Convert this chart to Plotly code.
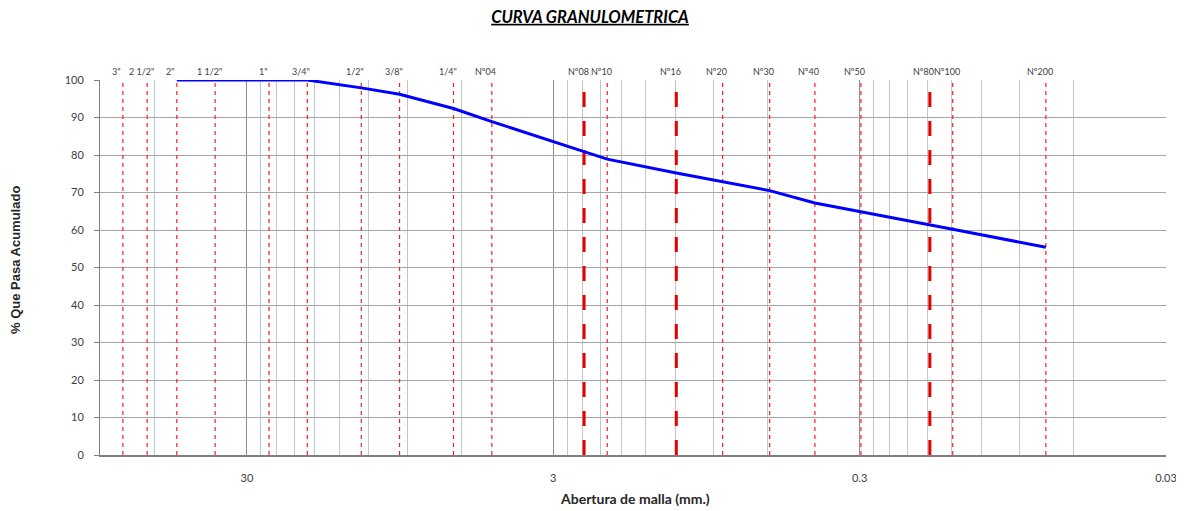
import numpy as np
import plotly.graph_objects as go

# ---- data ----
sieve_labels = ['3"', '2 1/2"', '2"', '1 1/2"', '1"', '3/4"', '1/2"', '3/8"', '1/4"',
                'Nº04', 'Nº08', 'Nº10', 'Nº16', 'Nº20', 'Nº30', 'Nº40', 'Nº50',
                'Nº80', 'Nº100', 'Nº200']
sieve_mm = [76.2, 63.5, 50.8, 38.1, 25.4, 19.05, 12.7, 9.525, 6.35,
            4.76, 2.38, 2.0, 1.19, 0.84, 0.59, 0.42, 0.297,
            0.177, 0.149, 0.074]
bold_sieves = ['Nº08', 'Nº16', 'Nº80']

curve_mm = [50.8, 38.1, 25.4, 19.05, 12.7, 9.525, 6.35, 4.76, 2.38, 2.0,
            1.19, 0.84, 0.59, 0.42, 0.297, 0.177, 0.149, 0.074]
curve_pct = [100, 100, 100, 100, 97.9, 96.2, 92.4, 88.9, 80.9, 78.9,
             75.2, 72.8, 70.5, 67.2, 64.8, 61.3, 60.2, 55.4]

x_major_ticks = [30, 3, 0.3, 0.03]
x_major_text = ['30', '3', '0.3', '0.03']
x_minor_grid = [60, 27, 24, 21, 18, 15, 12, 9, 6,
                2.7, 2.4, 2.1, 1.8, 1.5, 1.2, 0.9, 0.6,
                0.27, 0.24, 0.21, 0.18, 0.15, 0.12, 0.09, 0.06]
x_range = [90.5, 0.03]
y_ticks = list(range(0, 101, 10))

FONT = "Lato"
# page body has an 8px margin: figure sized/placed to compensate
W, H = 1176, 503
ML, MR, MT, MB = 92, 18, 72, 56
PW, PH = W - ML - MR, H - MT - MB

fig = go.Figure()

# sieve reference lines
for lab, mm in zip(sieve_labels, sieve_mm):
    bold = lab in bold_sieves
    fig.add_trace(go.Scatter(
        x=[mm, mm], y=[0, 100], mode="lines", hoverinfo="skip", showlegend=False,
        line=dict(color="#E60000" if bold else "#FF1A1A",
                  width=3 if bold else 1.2,
                  dash="15px,14px" if bold else "4px,4px")))

# grading curve
fig.add_trace(go.Scatter(x=curve_mm, y=curve_pct, mode="lines", showlegend=False,
                         line=dict(color="#0000FF", width=3), hoverinfo="skip"))

# sieve labels on top
for lab, mm in zip(sieve_labels, sieve_mm):
    fig.add_annotation(x=np.log10(mm), y=100, xref="x", yref="y", text=lab,
                       showarrow=False, yanchor="bottom", xanchor="center",
                       xshift=-6, yshift=1,
                       font=dict(family=FONT, size=9, color="#404040"))

fig.update_xaxes(type="log", range=[np.log10(x_range[0]), np.log10(x_range[1])],
                 tickmode="array", tickvals=x_major_ticks, ticktext=x_major_text,
                 showgrid=True, gridcolor="#8C8C8C", gridwidth=1,
                 minor=dict(tickmode="array", tickvals=x_minor_grid, showgrid=True,
                            gridcolor="#C4C4C4", gridwidth=1, ticks=""),
                 showline=True, linecolor="#7F7F7F", linewidth=2,
                 ticks="", ticklabelstandoff=12, automargin=False,
                 tickfont=dict(family=FONT, size=11, color="#404040"),
                 zeroline=False, mirror=False)
fig.update_yaxes(range=[0, 100], tickmode="array", tickvals=y_ticks,
                 showgrid=True, gridcolor="#A6A6A6", gridwidth=1,
                 showline=True, linecolor="#7F7F7F", linewidth=1,
                 ticks="outside", ticklen=5, tickcolor="#7F7F7F",
                 ticklabelstandoff=8, automargin=False,
                 tickfont=dict(family=FONT, size=11, color="#404040"),
                 zeroline=False)

fig.add_annotation(text="<b>% Que Pasa Acumulado</b>", xref="paper", yref="paper",
                   x=(7 - ML) / PW, y=(MT + PH - 252) / PH, textangle=-90, showarrow=False,
                   xanchor="center", yanchor="middle",
                   font=dict(family="Liberation Sans", size=13, color="#262626"))
fig.add_annotation(text="<b>Abertura de malla (mm.)</b>", xref="paper", yref="paper",
                   x=(627 - ML) / PW, y=-(490 - MT - PH) / PH, showarrow=False,
                   xanchor="center", yanchor="middle",
                   font=dict(family=FONT, size=14, color="#262626"))

fig.update_layout(
    width=W, height=H,
    margin=dict(l=ML, r=MR, t=MT, b=MB, autoexpand=False),
    paper_bgcolor="white", plot_bgcolor="white",
    title=dict(text="<b><i><u>CURVA GRANULOMETRICA</u></i></b>", x=582 / W,
               xanchor="center", y=1 - 9 / H, yanchor="middle",
               font=dict(family="Lato", size=16.5, color="#000000")),
)

fig.write_html("out.html")
